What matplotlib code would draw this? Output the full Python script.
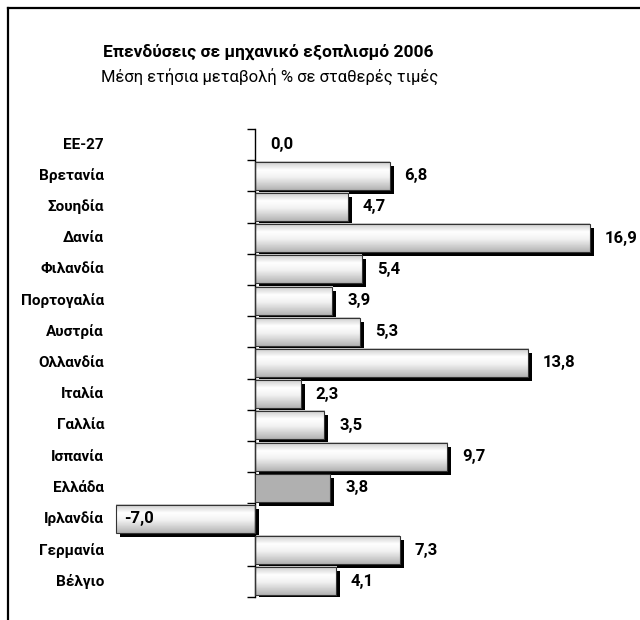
import numpy as np
import matplotlib
matplotlib.use("Agg")
import matplotlib.pyplot as plt
from matplotlib.colors import LinearSegmentedColormap
from matplotlib.patches import Rectangle
from matplotlib.lines import Line2D
from matplotlib.transforms import ScaledTranslation

plt.rcParams['font.family'] = ['Roboto', 'DejaVu Sans']

# data
countries = ["ΕΕ-27", "Βρετανία", "Σουηδία", "Δανία", "Φιλανδία", "Πορτογαλία",
             "Αυστρία", "Ολλανδία", "Ιταλία", "Γαλλία", "Ισπανία", "Ελλάδα",
             "Ιρλανδία", "Γερμανία", "Βέλγιο"]
values = [0.0, 6.8, 4.7, 16.9, 5.4, 3.9, 5.3, 13.8, 2.3, 3.5, 9.7, 3.8, -7.0, 7.3, 4.1]
highlight = "Ελλάδα"

title = "Επενδύσεις σε μηχανικό εξοπλισμό 2006"
subtitle = "Μέση ετήσια μεταβολή % σε σταθερές τιμές"

W, H = 640, 620
fig = plt.figure(figsize=(W / 100, H / 100), dpi=100)

# axes placed in pixel terms: zero line at x=255, rows from y=129 to 597
ax_left, ax_right = 110, 630
ax_top, ax_bot = 129, 597
ax = fig.add_axes([ax_left / W, 1 - ax_bot / H, (ax_right - ax_left) / W, (ax_bot - ax_top) / H])
ppu = 19.8
ax.set_xlim(-(255 - ax_left) / ppu, (ax_right - 255) / ppu)
n = len(countries)
ax.set_ylim(n - 0.5, -0.5)

grad_cmap = LinearSegmentedColormap.from_list(
    "bar", [(0.0, "#c8c8c8"), (0.3, "#ffffff"), (0.55, "#f2f2f2"), (1.0, "#b4b4b4")])
grad = np.linspace(0, 1, 64).reshape(-1, 1)

shadow_tr = ax.transData + ScaledTranslation(4 / 100, -4 / 100, fig.dpi_scale_trans)
bh = 0.9
for i, (c, v) in enumerate(zip(countries, values)):
    if v == 0:
        continue
    x0, x1 = min(0, v), max(0, v)
    y0 = i - bh / 2
    sh = Rectangle((x0, y0), x1 - x0, bh, transform=shadow_tr, facecolor="black",
                   edgecolor="none", zorder=1)
    ax.add_patch(sh)
    if c == highlight:
        ax.add_patch(Rectangle((x0, y0), x1 - x0, bh, facecolor="#b0b0b0",
                               edgecolor="#333333", lw=0.8, zorder=3))
    else:
        ax.imshow(grad, extent=[x0, x1, y0 + bh, y0], aspect="auto", cmap=grad_cmap,
                  vmin=0, vmax=1, zorder=2, interpolation="bilinear")
        ax.add_patch(Rectangle((x0, y0), x1 - x0, bh, facecolor="none",
                               edgecolor="#333333", lw=0.8, zorder=3))

# restore limits after imshow
ax.set_xlim(-(255 - ax_left) / ppu, (ax_right - 255) / ppu)
ax.set_ylim(n - 0.5, -0.5)

# value labels
for i, v in enumerate(values):
    lab = f"{v:.1f}".replace(".", ",")
    if v < 0:
        ax.text(v + 0.4, i, lab, ha="left", va="center", fontsize=12,
                fontweight="bold", zorder=5)
    else:
        ax.text(v + 0.75, i, lab, ha="left", va="center", fontsize=12,
                fontweight="bold", zorder=5)

# category labels
for i, c in enumerate(countries):
    ax.text((104 - ax_left) / (ax_right - ax_left), i, c, transform=ax.get_yaxis_transform(),
            ha="right", va="center", fontsize=11, fontweight="bold")

for s in ["top", "right", "bottom"]:
    ax.spines[s].set_visible(False)
ax.spines["left"].set_position(("data", 0))
ax.spines["left"].set_linewidth(1.0)
ax.set_xticks([])
ax.set_yticks(np.arange(-0.5, n, 1.0))
ax.set_yticklabels([])
ax.tick_params(axis="y", direction="out", length=6, width=1.0)
ax.patch.set_visible(False)

fig.text(268 / W, 1 - 52 / H, title, ha="center", va="center", fontsize=12.5, fontweight="bold")
fig.text(270 / W, 1 - 77 / H, subtitle, ha="center", va="center", fontsize=12)

# frame
fig.add_artist(Line2D([8 / W, 8 / W], [0, 1 - 8 / H], color="black", lw=1.6))
fig.add_artist(Line2D([8 / W, 1], [1 - 8 / H, 1 - 8 / H], color="black", lw=1.6))

fig.savefig("out.png", dpi=100)
